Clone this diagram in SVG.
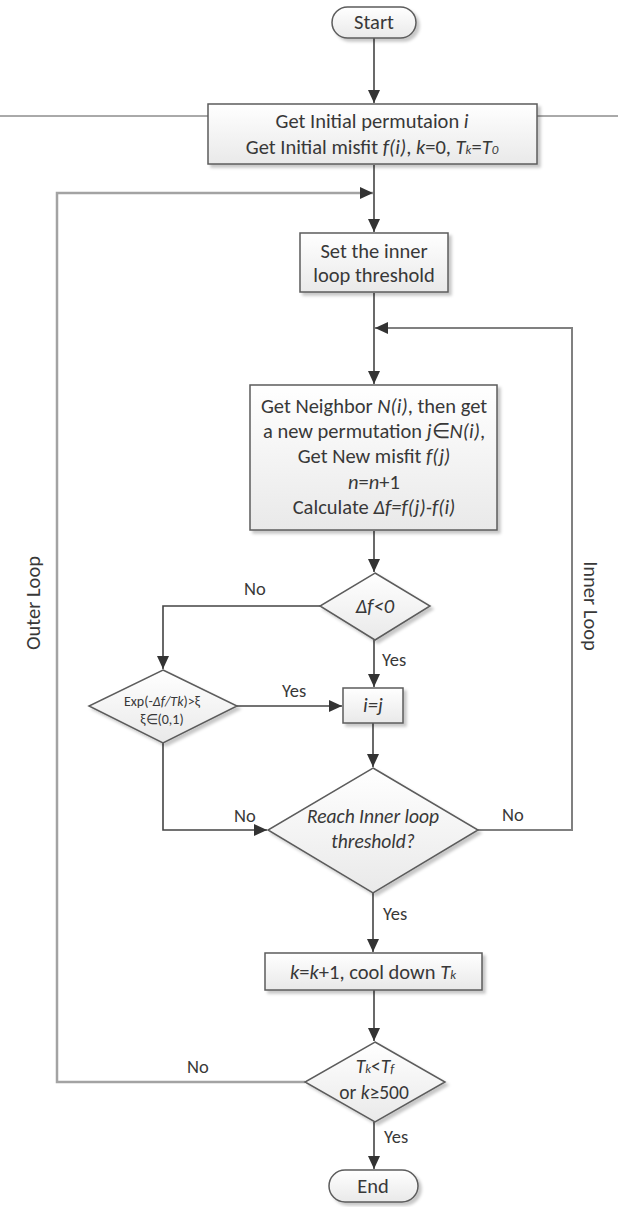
<svg xmlns="http://www.w3.org/2000/svg" width="618" height="1207" viewBox="0 0 618 1207">
  <defs>
    <linearGradient id="fillGrad" x1="0" y1="0" x2="0" y2="1">
      <stop offset="0" stop-color="#ffffff"/>
      <stop offset="1" stop-color="#e9e9e9"/>
    </linearGradient>
    <filter id="shadow" x="-10%" y="-10%" width="130%" height="140%">
      <feDropShadow dx="3" dy="3" stdDeviation="1.5" flood-color="#000000" flood-opacity="0.22"/>
    </filter>
    <marker id="arrow" markerUnits="userSpaceOnUse" markerWidth="14" markerHeight="12" refX="13" refY="6" orient="auto">
      <path d="M0,0 L13,6 L0,12 z" fill="#333333"/>
    </marker>
  </defs>
  <style>
    .shape { fill: url(#fillGrad); stroke: #5c5c5c; stroke-width: 1.5; filter: url(#shadow); }
    .conn { fill: none; stroke: #444444; stroke-width: 1.6; }
    .outer { fill: none; stroke: #a3a3a3; stroke-width: 2.5; }
    .inner { fill: none; stroke: #808080; stroke-width: 2; }
    .rule { fill: none; stroke: #555555; stroke-width: 1; }
    text { font-family: Carlito, "Liberation Sans", Arial, sans-serif; fill: #383838; }
    .t { font-size: 20.5px; text-anchor: middle; }
    .tc { font-size: 19.5px; text-anchor: middle; }
    .lbl { font-size: 18.5px; }
    .side { font-size: 20.5px; text-anchor: middle; }
    .it { font-style: italic; }
    .sub { font-size: 13px; font-style: italic; }
    .small { font-size: 14px; text-anchor: middle; }
  </style>

  <!-- page rules beside the first process box -->
  <path class="rule" d="M0,116 H208 M537,116 H618"/>

  <!-- connectors -->
  <g id="connectors">
    <path class="conn" d="M374,38 V103" marker-end="url(#arrow)"/>
    <path class="conn" d="M374,165 V232" marker-end="url(#arrow)"/>
    <path class="outer" d="M305,1082 H57 V193 H373" marker-end="url(#arrow)"/>
    <path class="conn" d="M374,293 V384" marker-end="url(#arrow)"/>
    <path class="inner" d="M478,830 H572 V328 H375" marker-end="url(#arrow)"/>
    <path class="conn" d="M374,531 V572" marker-end="url(#arrow)"/>
    <path class="conn" d="M320,606 H163 V669" marker-end="url(#arrow)"/>
    <path class="conn" d="M374,640 V687" marker-end="url(#arrow)"/>
    <path class="conn" d="M237,706 H342" marker-end="url(#arrow)"/>
    <path class="conn" d="M163,743 V830 H267" marker-end="url(#arrow)"/>
    <path class="conn" d="M373,723 V767" marker-end="url(#arrow)"/>
    <path class="conn" d="M373,893 V952" marker-end="url(#arrow)"/>
    <path class="conn" d="M374,990 V1041" marker-end="url(#arrow)"/>
    <path class="conn" d="M374,1122 V1169" marker-end="url(#arrow)"/>
  </g>

  <!-- connector labels -->
  <g id="labels">
    <text class="lbl" x="244" y="595">No</text>
    <text class="lbl" x="382" y="666">Yes</text>
    <text class="lbl" x="282" y="697">Yes</text>
    <text class="lbl" x="234" y="822">No</text>
    <text class="lbl" x="502" y="821">No</text>
    <text class="lbl" x="383" y="920">Yes</text>
    <text class="lbl" x="187" y="1073">No</text>
    <text class="lbl" x="384" y="1143">Yes</text>
    <text class="side" x="40" y="603" transform="rotate(-90 40 603)">Outer Loop</text>
    <text class="side" x="584" y="606" transform="rotate(90 584 606)">Inner Loop</text>
  </g>

  <g id="start">
    <rect class="shape" x="332" y="7" width="84" height="31" rx="15.5"/>
    <text class="t" x="374" y="29">Start</text>
  </g>

  <g id="init">
    <rect class="shape" x="208" y="104" width="329" height="60"/>
    <text class="t" x="372" y="128">Get Initial permutaion <tspan class="it">i</tspan></text>
    <text class="t" x="372" y="154">Get Initial misfit <tspan class="it">f(i)</tspan>, <tspan class="it">k</tspan>=0, <tspan class="it">T</tspan><tspan class="sub">k</tspan>=<tspan class="it">T</tspan><tspan class="sub">0</tspan></text>
  </g>

  <g id="set-threshold">
    <rect class="shape" x="300" y="233" width="148" height="59"/>
    <text class="t" x="374" y="258">Set the inner</text>
    <text class="t" x="374" y="282">loop threshold</text>
  </g>

  <g id="neighbor">
    <rect class="shape" x="250" y="385" width="247" height="145"/>
    <text class="t" x="374" y="413">Get Neighbor <tspan class="it">N(i)</tspan>, then get</text>
    <text class="t" x="374" y="438">a new permutation <tspan class="it">j</tspan>∈<tspan class="it">N(i)</tspan>,</text>
    <text class="t" x="374" y="463">Get New misfit <tspan class="it">f(j)</tspan></text>
    <text class="t" x="374" y="489"><tspan class="it">n</tspan>=<tspan class="it">n</tspan>+1</text>
    <text class="t" x="374" y="514">Calculate <tspan class="it">Δf=f(j)-f(i)</tspan></text>
  </g>

  <g id="delta-check">
    <polygon class="shape" points="375,573 430,606 375,640 320,606"/>
    <text class="t it" x="375" y="613">Δf&lt;0</text>
  </g>

  <g id="metropolis">
    <polygon class="shape" points="163,670 237,706 163,743 89,706"/>
    <text class="small" x="162" y="706">Exp(-<tspan class="it">Δf/Tk</tspan>)&gt;ξ</text>
    <text class="small" x="162" y="724">ξ∈(0,1)</text>
  </g>

  <g id="accept">
    <rect class="shape" x="343" y="688" width="60" height="35"/>
    <text class="t it" x="373" y="712">i=j</text>
  </g>

  <g id="inner-check">
    <polygon class="shape" points="373,768 478,830 373,893 268,830"/>
    <text class="tc it" x="373" y="823">Reach Inner loop</text>
    <text class="tc it" x="373" y="848">threshold?</text>
  </g>

  <g id="cool-down">
    <rect class="shape" x="265" y="953" width="217" height="37"/>
    <text class="t" x="373" y="979"><tspan class="it">k</tspan>=<tspan class="it">k</tspan>+1, cool down <tspan class="it">T</tspan><tspan class="sub">k</tspan></text>
  </g>

  <g id="outer-check">
    <polygon class="shape" points="375,1042 445,1082 375,1122 305,1082"/>
    <text class="tc" x="375" y="1073"><tspan class="it">T</tspan><tspan class="sub">k</tspan>&lt;<tspan class="it">T</tspan><tspan class="sub">f</tspan></text>
    <text class="tc" x="374" y="1099">or <tspan class="it">k</tspan>≥500</text>
  </g>

  <g id="end">
    <rect class="shape" x="329" y="1170" width="89" height="32" rx="16"/>
    <text class="t" x="373" y="1193">End</text>
  </g>
</svg>
